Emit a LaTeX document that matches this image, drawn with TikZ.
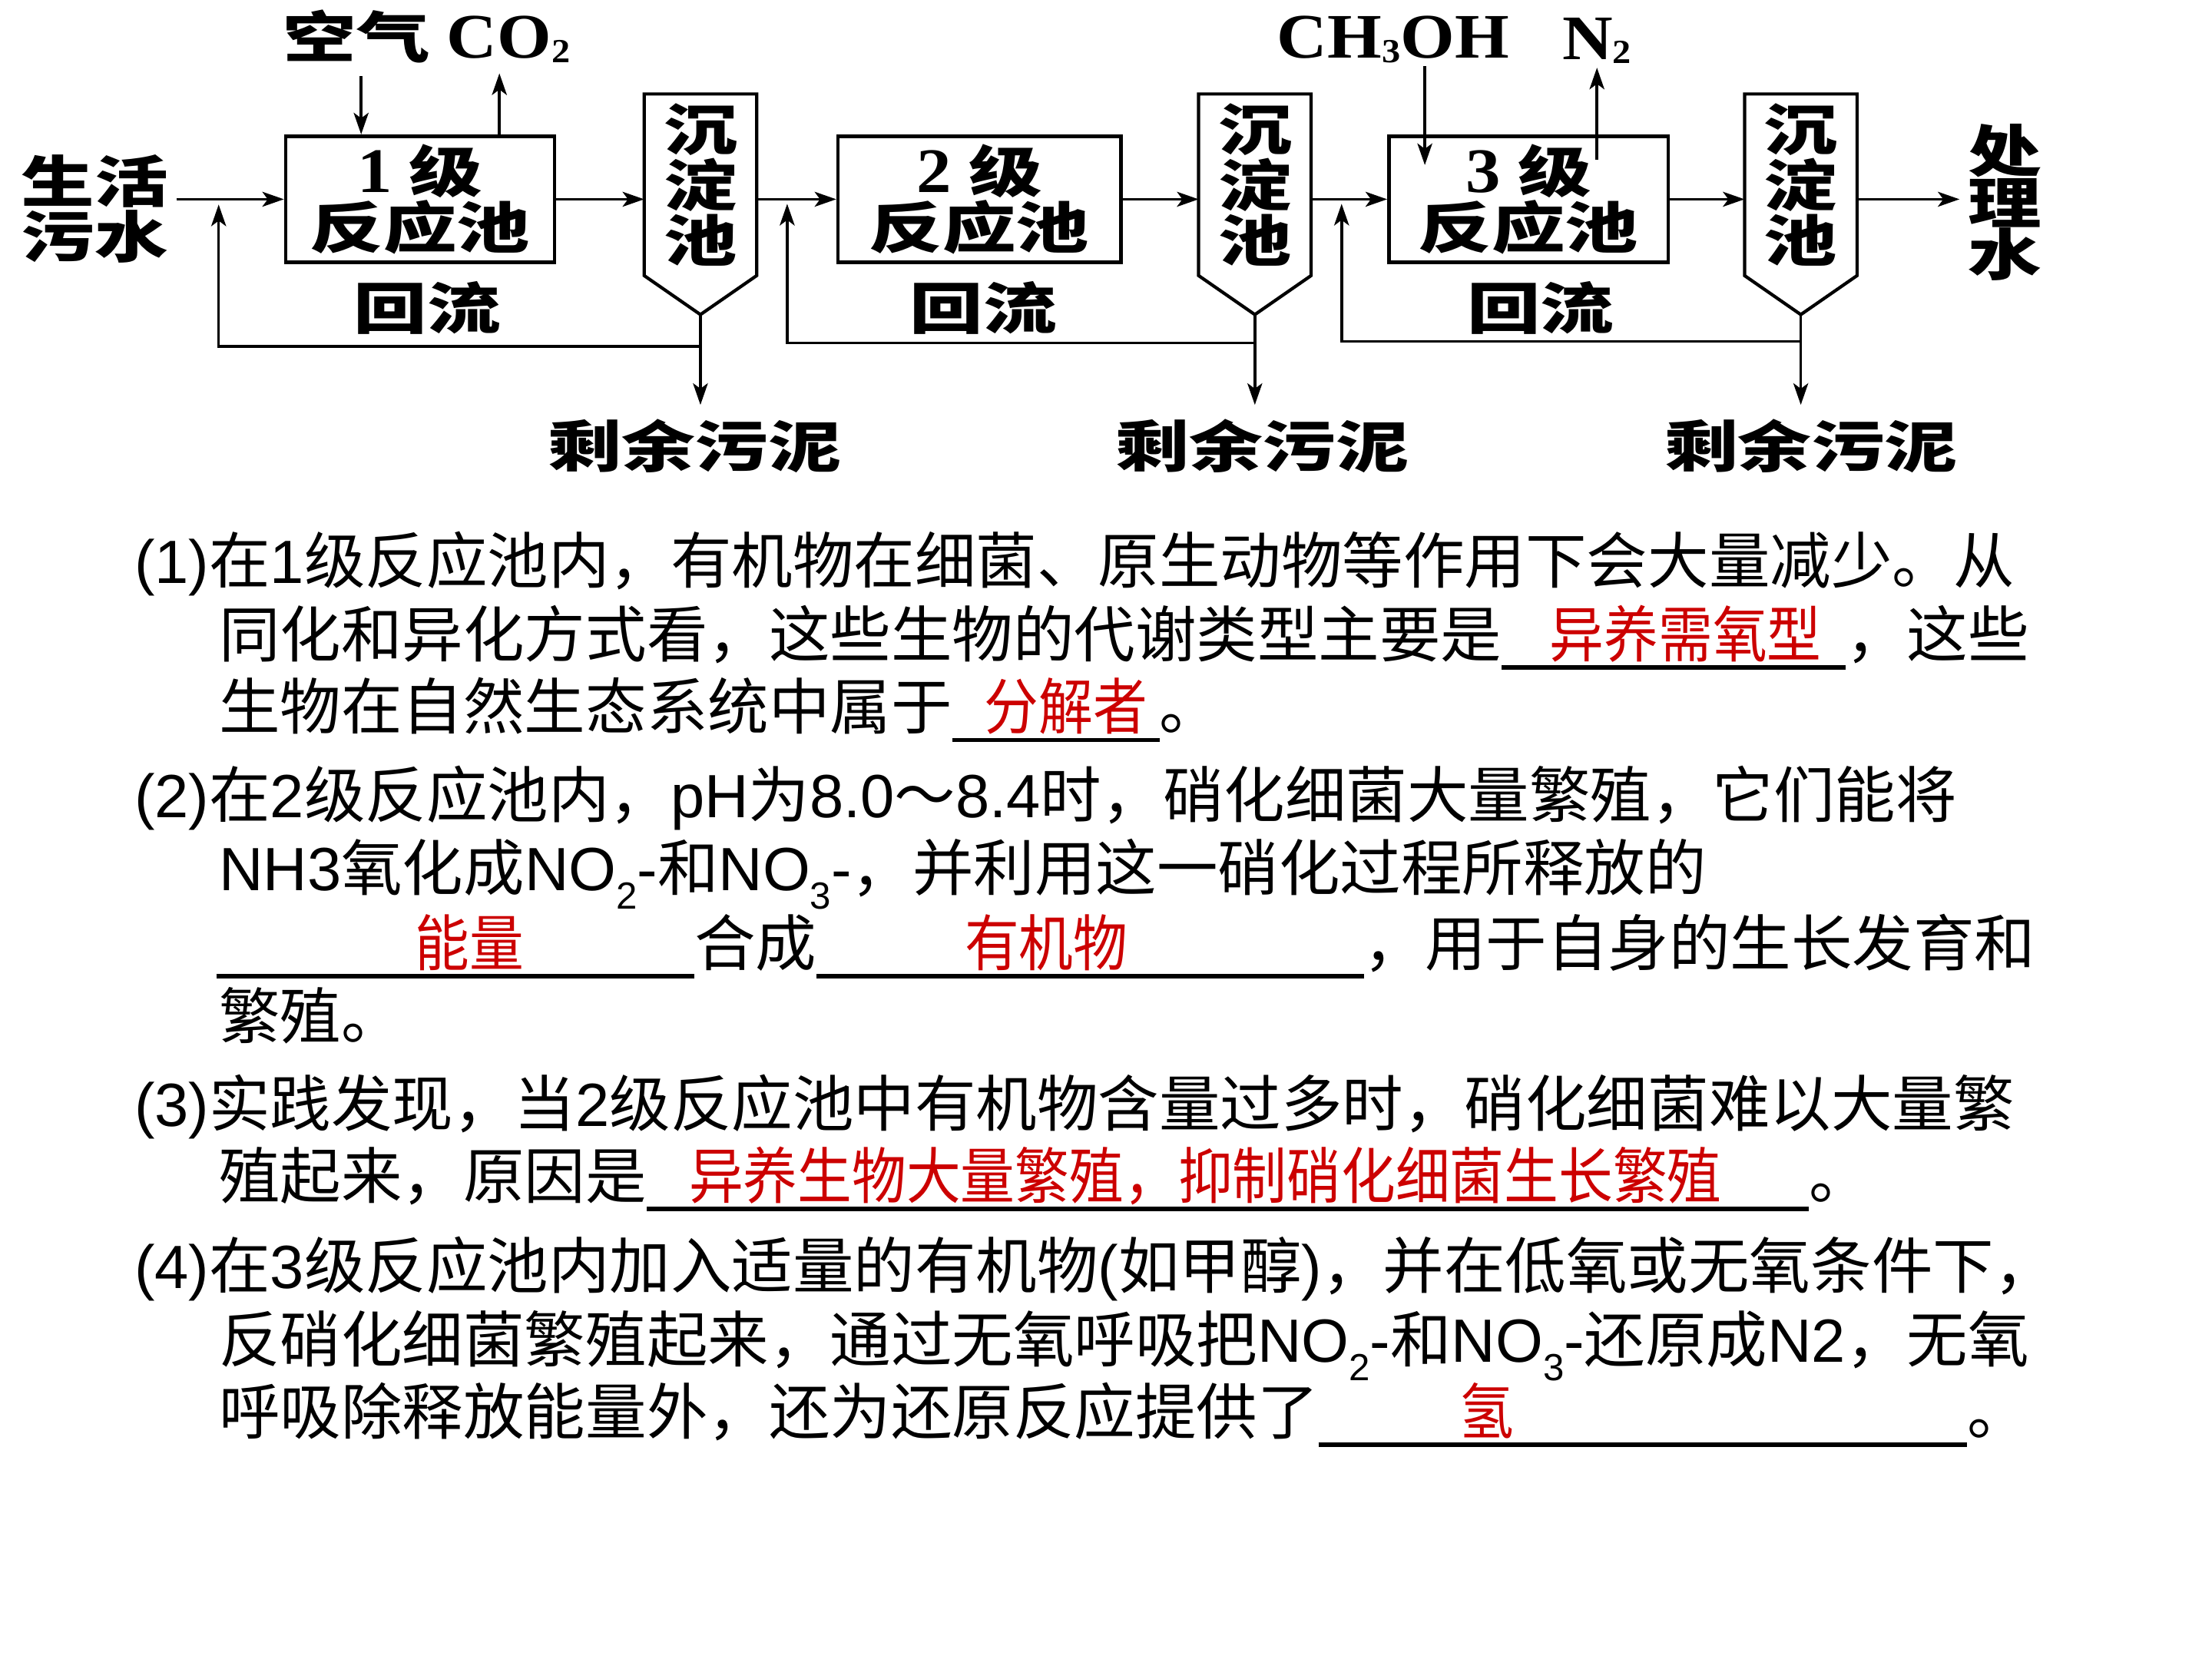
\documentclass[tikz,border=0pt]{standalone}
\usepackage{fontspec}
\usepackage{graphicx}
\usetikzlibrary{arrows.meta}
\setmainfont{Liberation Sans}
\newfontfamily\cjkf{Noto Sans CJK SC}
\newfontfamily\latf{Liberation Sans}
\newfontfamily\dgmf[FakeStretch=1.32]{Noto Sans CJK SC}
\newfontfamily\dgmlatf[FakeStretch=1.1]{Liberation Serif}
\definecolor{ansred}{RGB}{204,0,0}
\newlength\vpx \setlength\vpx{0.52259pt}
\newcommand\ltn[1]{{\latf #1}}
\newcommand\subsc[1]{\raisebox{-0.3em}{\fontsize{14pt}{14pt}\selectfont #1}}
\newcommand\ansblank[3]{\makebox[0pt][l]{\hspace*{#2\vpx}\textcolor{ansred}{\scalebox{0.89}[1]{#3}}}\rule[-9\vpx]{#1\vpx}{3\vpx}}
\newcommand\dgsub[1]{\raisebox{-1.5pt}{\fontsize{12.5pt}{12.5pt}\selectfont #1}}
\newcommand\dglat[1]{{\dgmlatf\bfseries\fontsize{23.5pt}{18.6pt}\selectfont #1}}
\tikzset{
  body/.style={anchor=base west, inner sep=0pt, font={\cjkf\fontsize{22.63pt}{27pt}\selectfont}},
  dlabel/.style={inner sep=0pt, align=center, font={\dgmf\bfseries\fontsize{20.6pt}{18.6pt}\selectfont}},
  pool/.style={dlabel, draw, line width=1.3pt, minimum height=89.5\vpx},
  tank/.style={dlabel, minimum width=79\vpx, minimum height=128\vpx},
  tankline/.style={line width=1.2pt, line join=miter},
  arr/.style={line width=1pt, -{Stealth[length=8pt,width=5.5pt,inset=2pt]}},
  ln/.style={line width=1pt}
}
\begin{document}
\begin{tikzpicture}[x=0.018367cm, y=-0.018367cm]
\useasboundingbox (0,0) rectangle (1568,1176);
\fill[white] (0,0) rectangle (1568,1176);

% ---------- diagram ----------
\node[pool, minimum width=190.5\vpx] (box1) at (297.75,141.25) {\dglat{1}\ 级\\反应池};
\node[pool, minimum width=200.5\vpx] (box2) at (694.25,141.25) {\dglat{2}\ 级\\反应池};
\node[pool, minimum width=198\vpx] (box3) at (1083.5,141.25) {\dglat{3}\ 级\\反应池};

\node[tank] (tank1) at (496.5,131) {沉\\淀\\池};
\node[tank] (tank2) at (889.5,131) {沉\\淀\\池};
\node[tank] (tank3) at (1276.5,131) {沉\\淀\\池};
\coordinate (tip1) at (496.5,223);
\coordinate (tip2) at (889.5,223);
\coordinate (tip3) at (1276.5,223);
\foreach \t in {1,2,3}{
  \draw[tankline] (tank\t.north west) -- (tank\t.north east) -- (tank\t.south east) -- (tip\t) -- (tank\t.south west) -- cycle;
}

\node[dlabel] (airlbl) at (302.5,26) {空气\ \dglat{CO\dgsub{2}}};
\node[dlabel] (ch3oh) at (987.5,28) {\dglat{CH\dgsub{3}OH}};
\node[dlabel] (n2lbl) at (1132,29) {\dglat{N\dgsub{2}}};
\node[dlabel, font={\dgmf\bfseries\fontsize{20.6pt}{17.5pt}\selectfont}] (src) at (67,148) {生活\\污水};
\node[dlabel, font={\dgmf\bfseries\fontsize{20.6pt}{19.3pt}\selectfont}] (outlbl) at (1421,143.5) {处\\理\\水};
\node[dlabel] (back1) at (303,218) {回流};
\node[dlabel] (back2) at (697,218) {回流};
\node[dlabel] (back3) at (1092,218) {回流};
\node[dlabel] (sl1) at (492.5,316) {剩余污泥};
\node[dlabel] (sl2) at (895,316) {剩余污泥};
\node[dlabel] (sl3) at (1284,316) {剩余污泥};

% top arrows
\coordinate (airtop) at (256,54);
\coordinate (co2top) at (354,52);
\draw[arr] (airtop) -- (airtop |- box1.north);
\draw[arr] (co2top |- box1.north) -- (co2top);
\coordinate (mtop) at (1010,47);
\coordinate (mbot) at (1010,117);
\draw[arr] (mtop) -- (mbot);
\coordinate (nbot) at (1132,113);
\coordinate (ntop) at (1132,48);
\draw[arr] (nbot) -- (ntop);

% main flow
\coordinate (inlet) at (125,141.25);
\coordinate (outlet) at (1389,141.25);
\draw[arr] (inlet) -- (box1.west);
\draw[arr] (box1.east) -- (box1.east -| tank1.west);
\draw[arr] (tank1.east |- box2.west) -- (box2.west);
\draw[arr] (box2.east) -- (box2.east -| tank2.west);
\draw[arr] (tank2.east |- box3.west) -- (box3.west);
\draw[arr] (box3.east) -- (box3.east -| tank3.west);
\draw[arr] (tank3.east |- outlet) -- (outlet);

% sludge and return
\coordinate (se1) at (496.5,287);
\coordinate (se2) at (889.5,287);
\coordinate (se3) at (1276.5,287);
\draw[arr] (tip1) -- (se1);
\draw[arr] (tip2) -- (se2);
\draw[arr] (tip3) -- (se3);
\coordinate (j1) at (496.5,245.5);
\coordinate (j2) at (889.5,243);
\coordinate (j3) at (1276.5,242);
\coordinate (r1) at (155,145);
\coordinate (r2) at (558,144.5);
\coordinate (r3) at (951,144.5);
\draw[arr] (j1) -| (r1);
\draw[arr] (j2) -| (r2);
\draw[arr] (j3) -| (r3);

% ---------- questions ----------
\node[body] (l1) at (95,413.5) {\ltn{(1)}在\ltn{1}级反应池内，有机物在细菌、原生动物等作用下会大量减少。从};
\node[body] (l2) at (155,465.5) {同化和异化方式看，这些生物的代谢类型主要是\ansblank{244}{34}{异养需氧型}，这些};
\node[body] (l3) at (155,517) {生物在自然生态系统中属于\ansblank{147}{23}{分解者}。};
\node[body] (l4) at (95,579.5) {\ltn{(2)}在\ltn{2}级反应池内，\ltn{pH}为\ltn{8.0}～\ltn{8.4}时，硝化细菌大量繁殖，它们能将};
\node[body] (l5) at (155,631.5) {\ltn{NH3}氧化成\ltn{NO\subsc{2}-}和\ltn{NO\subsc{3}-}，并利用这一硝化过程所释放的};
\node[body] (l6) at (153,684.5) {\ansblank{339}{141}{能量}合成\ansblank{388}{105}{有机物}，用于自身的生长发育和};
\node[body] (l7) at (155,736.5) {繁殖。};
\node[body] (l8) at (95,798.5) {\ltn{(3)}实践发现，当\ltn{2}级反应池中有机物含量过多时，硝化细菌难以大量繁};
\node[body] (l9) at (155,849.5) {殖起来，原因是\ansblank{824}{30}{异养生物大量繁殖，抑制硝化细菌生长繁殖}。};
\node[body] (l10) at (95,913.5) {\ltn{(4)}在\ltn{3}级反应池内加入适量的有机物\ltn{(}如甲醇\ltn{)}，并在低氧或无氧条件下，};
\node[body] (l11) at (155,965.5) {反硝化细菌繁殖起来，通过无氧呼吸把\ltn{NO\subsc{2}-}和\ltn{NO\subsc{3}-}还原成\ltn{N2}，无氧};
\node[body] (l12) at (155,1016.5) {呼吸除释放能量外，还为还原反应提供了\ansblank{460}{100}{氢}。};
\end{tikzpicture}
\end{document}
